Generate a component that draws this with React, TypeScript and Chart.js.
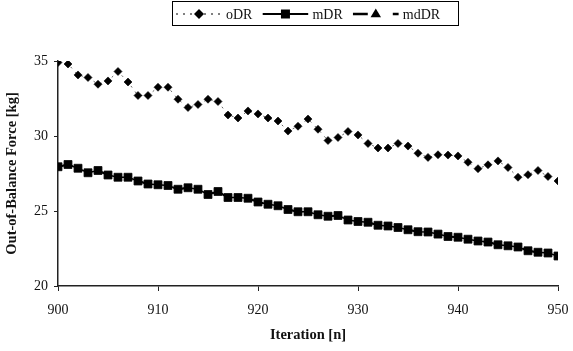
import React, { useEffect, useRef } from 'react';
import { Chart, registerables } from 'chart.js';

Chart.register(...registerables);

const iterations = [
  900, 901, 902, 903, 904, 905, 906, 907, 908, 909,
  910, 911, 912, 913, 914, 915, 916, 917, 918, 919,
  920, 921, 922, 923, 924, 925, 926, 927, 928, 929,
  930, 931, 932, 933, 934, 935, 936, 937, 938, 939,
  940, 941, 942, 943, 944, 945, 946, 947, 948, 949, 950,
];

const oDR = [
  34.9, 34.8, 34.07, 33.9, 33.45, 33.67, 34.3, 33.6, 32.7, 32.7,
  33.25, 33.25, 32.45, 31.9, 32.1, 32.45, 32.3, 31.4, 31.2, 31.67,
  31.47, 31.2, 31.0, 30.33, 30.65, 31.13, 30.45, 29.7, 29.9, 30.3,
  30.07, 29.5, 29.2, 29.2, 29.5, 29.33, 28.85, 28.57, 28.75, 28.73,
  28.67, 28.25, 27.82, 28.08, 28.34, 27.9, 27.25, 27.42, 27.7, 27.3, 27.0,
];

const mDR = [
  27.95, 28.1, 27.85, 27.55, 27.7, 27.4, 27.25, 27.25, 27.0, 26.8,
  26.75, 26.7, 26.45, 26.55, 26.45, 26.1, 26.3, 25.9, 25.9, 25.85,
  25.6, 25.45, 25.35, 25.1, 24.95, 24.95, 24.75, 24.65, 24.7, 24.4,
  24.3, 24.25, 24.05, 24.0, 23.9, 23.75, 23.62, 23.6, 23.46, 23.3,
  23.25, 23.12, 23.0, 22.93, 22.75, 22.68, 22.6, 22.35, 22.25, 22.2, 22.0,
];

const mdDR = [
  27.95, 28.1, 27.85, 27.55, 27.7, 27.4, 27.25, 27.25, 27.0, 26.8,
  26.75, 26.7, 26.45, 26.55, 26.45, 26.1, 26.3, 25.9, 25.9, 25.85,
  25.6, 25.45, 25.35, 25.1, 24.95, 24.95, 24.75, 24.65, 24.7, 24.4,
  24.3, 24.25, 24.05, 24.0, 23.9, 23.75, 23.62, 23.6, 23.46, 23.3,
  23.25, 23.12, 23.0, 22.93, 22.75, 22.68, 22.6, 22.35, 22.25, 22.2, 22.0,
];

const seriesLabels = ['oDR', 'mDR', 'mdDR'];
const xTicks = [900, 910, 920, 930, 940, 950];
const yTicks = [20, 25, 30, 35];

const FONT = '"Liberation Serif", "Times New Roman", serif';
const INK = '#111';

function drawMarker(ctx: CanvasRenderingContext2D, style: string, x: number, y: number) {
  ctx.beginPath();
  if (style === 'rectRot') {
    const r = 5;
    ctx.moveTo(x - r, y);
    ctx.lineTo(x, y - r);
    ctx.lineTo(x + r, y);
    ctx.lineTo(x, y + r);
    ctx.closePath();
  } else if (style === 'rect') {
    const s = 4.5;
    ctx.rect(x - s, y - s, 2 * s, 2 * s);
  } else if (style === 'triangle') {
    const r = 5.5;
    ctx.moveTo(x, y - r);
    ctx.lineTo(x + r * 0.95, y + r * 0.6);
    ctx.lineTo(x - r * 0.95, y + r * 0.6);
    ctx.closePath();
  }
  ctx.fill();
}

const legendPlugin = {
  id: 'boxLegend',
  afterDraw(chart: any) {
    const ctx: CanvasRenderingContext2D = chart.ctx;
    ctx.save();
    const left = 172.5;
    const right = 458.5;
    const top = 1.5;
    const h = 24;
    ctx.strokeStyle = '#000';
    ctx.lineWidth = 1;
    ctx.setLineDash([]);
    ctx.strokeRect(left, top, right - left, h);
    const cy = 14;
    ctx.font = `14px ${FONT}`;
    ctx.textBaseline = 'middle';
    ctx.textAlign = 'left';
    let x = 176;
    const legendDash: Record<string, number[]> = { oDR: [2, 5], mDR: [], mdDR: [15, 25] };
    const legendWidth: Record<string, number> = { oDR: 1, mDR: 1.8, mdDR: 2.6 };
    chart.data.datasets.forEach((ds: any) => {
      ctx.save();
      ctx.beginPath();
      ctx.rect(x, cy - 5, 46, 10);
      ctx.clip();
      ctx.beginPath();
      ctx.strokeStyle = '#000';
      ctx.lineWidth = legendWidth[ds.label];
      ctx.setLineDash(legendDash[ds.label]);
      ctx.moveTo(x, cy);
      ctx.lineTo(x + 46, cy);
      ctx.stroke();
      ctx.restore();
      ctx.fillStyle = '#000';
      drawMarker(ctx, ds.pointStyle, x + 23, cy);
      ctx.fillStyle = INK;
      ctx.fillText(ds.label, x + 50, cy + 1);
      x += 50 + ctx.measureText(ds.label).width + 10;
    });
    ctx.restore();
  },
};

export default function App() {
  const ref = useRef<HTMLCanvasElement | null>(null);

  useEffect(() => {
    document.body.style.margin = '0';
    const canvas = ref.current;
    if (!canvas) return;
    const toPts = (vals: number[]) => iterations.map((it, i) => ({ x: it, y: vals[i] }));
    const chart = new Chart(canvas, {
      type: 'line',
      data: {
        datasets: [
          {
            label: seriesLabels[0],
            data: toPts(oDR),
            borderColor: '#666',
            borderWidth: 1,
            borderDash: [2, 5],
            pointStyle: 'rectRot',
            pointRadius: 4,
            pointBorderWidth: 0.6,
            pointBackgroundColor: '#000',
            pointBorderColor: '#000',
            tension: 0,
          },
          {
            label: seriesLabels[1],
            data: toPts(mDR),
            borderColor: '#000',
            borderWidth: 1.5,
            pointStyle: 'rect',
            pointRadius: 5.6,
            pointBorderWidth: 0.8,
            pointBackgroundColor: '#000',
            pointBorderColor: '#000',
            tension: 0,
          },
          {
            label: seriesLabels[2],
            data: toPts(mdDR),
            borderColor: '#000',
            borderWidth: 2,
            borderDash: [15, 25],
            pointStyle: 'triangle',
            pointRadius: 3.5,
            pointBorderWidth: 0,
            pointBackgroundColor: '#000',
            pointBorderColor: '#000',
            tension: 0,
          },
        ],
      },
      options: {
        animation: false,
        responsive: false,
        maintainAspectRatio: false,
        layout: { padding: { top: 61, right: 15, left: 0, bottom: 0 } },
        plugins: { legend: { display: false }, tooltip: { enabled: false } },
        scales: {
          x: {
            type: 'linear',
            min: 900,
            max: 950,
            afterBuildTicks: (s: any) => {
              s.ticks = xTicks.map((v) => ({ value: v }));
            },
            afterFit: (s: any) => {
              s.height = 65;
              s.paddingLeft = 0;
              s.paddingRight = 0;
            },
            grid: {
              display: true,
              drawOnChartArea: false,
              drawTicks: true,
              tickLength: 5,
              color: '#222',
              lineWidth: 1,
            },
            border: { display: true, color: '#222', width: 1.5 },
            ticks: {
              font: { family: FONT, size: 14 },
              color: INK,
              padding: 11,
              maxRotation: 0,
              autoSkip: false,
            },
            title: {
              display: true,
              text: 'Iteration [n]',
              font: { family: FONT, size: 14.5, weight: 'bold' },
              color: INK,
              padding: { top: 4, bottom: 7 },
            },
          },
          y: {
            type: 'linear',
            min: 20,
            max: 35,
            afterBuildTicks: (s: any) => {
              s.ticks = yTicks.map((v) => ({ value: v }));
            },
            afterFit: (s: any) => {
              s.width = 58;
              s.paddingTop = 0;
              s.paddingBottom = 0;
            },
            grid: {
              display: true,
              drawOnChartArea: false,
              drawTicks: true,
              tickLength: 4,
              color: '#222',
              lineWidth: 1,
            },
            border: { display: true, color: '#222', width: 1.5 },
            ticks: {
              font: { family: FONT, size: 14 },
              color: INK,
              padding: 6,
              autoSkip: false,
            },
            title: {
              display: true,
              text: 'Out-of-Balance Force [kg]',
              font: { family: FONT, size: 14.5, weight: 'bold' },
              color: INK,
              padding: { top: 4, bottom: 4 },
            },
          },
        },
      },
      plugins: [legendPlugin],
    });
    return () => chart.destroy();
  }, []);

  return (
    <div style={{ width: 573, height: 351 }}>
      <canvas ref={ref} width={573} height={351} style={{ display: 'block' }} />
    </div>
  );
}
